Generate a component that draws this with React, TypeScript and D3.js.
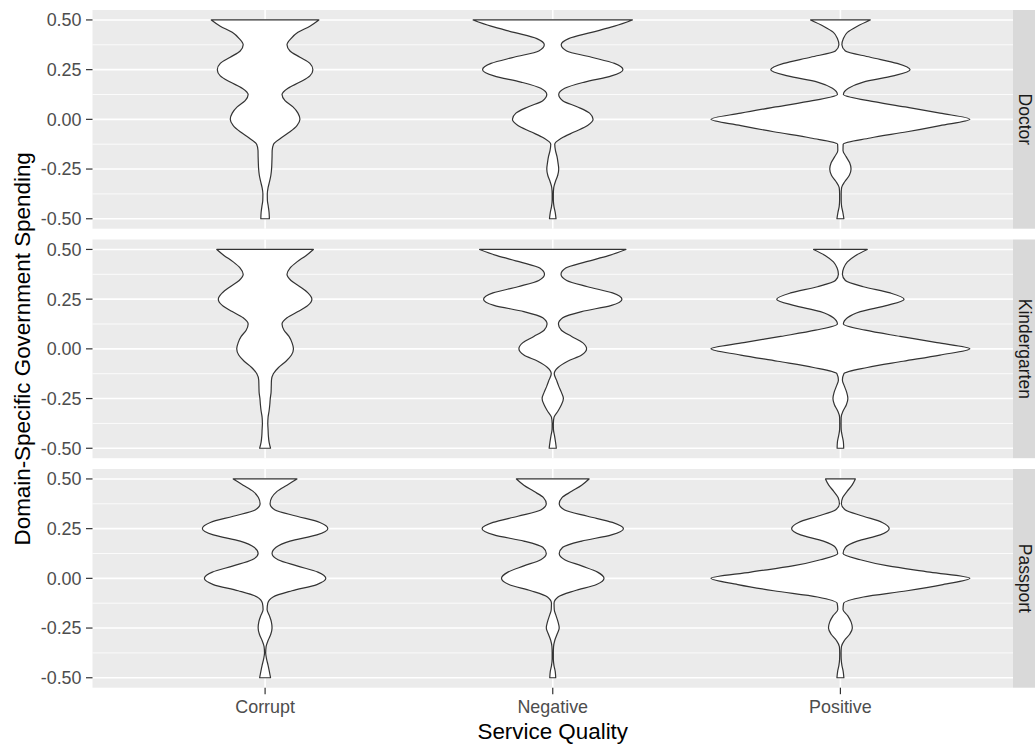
import React from "react";
import * as d3 from "d3";

const domains = ["Doctor", "Kindergarten", "Passport"];
const quality = ["Corrupt", "Negative", "Positive"];
const yTicks = [-0.5, -0.25, 0, 0.25, 0.5];
const yTickLabels = ["-0.50", "-0.25", "0.00", "0.25", "0.50"];
const yMinor = [-0.375, -0.125, 0.125, 0.375];

// spending levels where the violin widths were read, bottom to top
const spending = [
  -0.5, -0.46875, -0.4375, -0.40625, -0.375, -0.34375, -0.3125, -0.28125,
  -0.25, -0.21875, -0.1875, -0.15625, -0.125, -0.09375, -0.0625, -0.03125,
  0, 0.03125, 0.0625, 0.09375, 0.125, 0.15625, 0.1875, 0.21875,
  0.25, 0.28125, 0.3125, 0.34375, 0.375, 0.40625, 0.4375, 0.46875, 0.5,
];

// relative density (violin half width) at each spending level
const doctorCorrupt = [
  4.3, 4, 3.2, 2.3, 2.2, 3, 4.5, 5.8, 6.5, 6.8, 7, 7.1, 8.5, 16, 25, 32,
  35, 33, 28, 20, 17, 23, 35, 45, 48, 45, 35, 25, 22, 26, 33, 45, 54,
];
const doctorNegative = [
  3.3, 2.5, 1.2, 0.6, 0.6, 1, 2.7, 5, 6, 5.3, 4.3, 2.7, 2, 9, 22, 35,
  40.5, 37, 25, 10, 6, 12, 32, 59, 70.5, 62, 39, 14, 8.5, 16, 39, 62, 80,
];
const doctorPositive = [
  3.5, 2.5, 1.2, 0.8, 0.8, 1.2, 4.5, 9, 10.7, 9.3, 5.7, 2.6, 2.8, 30, 67, 100,
  130, 100, 65, 28, 3, 8, 23, 53, 70, 57, 30, 5, 1.5, 3, 7, 17, 30,
];
const kinderCorrupt = [
  5.5, 4, 3.3, 3, 2.7, 3, 4, 4.7, 5.2, 6, 6.2, 6.4, 8.3, 13.5, 21, 26.5,
  28.5, 27, 24, 19, 17, 22, 33, 43, 47, 43, 35, 26, 22, 25, 32, 41, 48.5,
];
const kinderNegative = [
  3.6, 2.8, 1.8, 0.7, 0.6, 1.3, 5.3, 8.7, 10.7, 8.7, 6, 3.7, 1.5, 5.3, 15, 29,
  34, 30, 19, 8.7, 5.7, 10, 29, 59, 69.5, 60, 35, 14, 8.3, 13, 33, 56, 73.5,
];
const kinderPositive = [
  3.3, 3, 1.8, 0.8, 0.7, 0.8, 2.7, 6, 7.5, 6.3, 4, 2, 3.5, 27, 63, 100,
  130, 97, 60, 25, 3, 7, 20, 47, 64, 50, 23, 5, 2, 3.3, 7, 15, 27,
];
const passportCorrupt = [
  5.5, 4.3, 3, 1.5, 0.6, 1, 3, 5.7, 7, 6.3, 4.3, 2, 2.7, 8, 27, 52,
  61, 53, 32, 13, 7, 11, 25, 52, 63, 55, 32, 10, 5, 6.7, 12, 22, 32,
];
const passportNegative = [
  3, 2.5, 1.2, 0.6, 0.6, 0.8, 2, 4.3, 6.5, 5.3, 3.3, 1.5, 1.3, 5.3, 22, 44,
  51.5, 45, 29, 12, 6.5, 10, 29, 59, 71, 60, 35, 12, 6.5, 9.3, 19, 29, 36.5,
];
const passportPositive = [
  3.5, 2.8, 1.5, 0.8, 0.7, 1, 4, 9.3, 12, 10.7, 7.3, 2.6, 3.3, 23, 67, 103,
  130, 90, 48, 20, 2.7, 5, 17, 40, 49, 42, 23, 5, 1, 2.3, 6.7, 11.7, 15,
];

const violins: Record<string, number[][]> = {
  Doctor: [doctorCorrupt, doctorNegative, doctorPositive],
  Kindergarten: [kinderCorrupt, kinderNegative, kinderPositive],
  Passport: [passportCorrupt, passportNegative, passportPositive],
};

const font = "'Liberation Sans', Arial, Helvetica, sans-serif";

export default function App() {
  const width = 1035;
  const height = 747;
  const left = 92.5;
  const right = 1013;
  const top = 10;
  const panelH = 218.7;
  const gap = 10.8;
  const bottom = top + 3 * panelH + 2 * gap;

  const x = d3.scalePoint<string>().domain(quality).range([left, right]).padding(0.6);
  const maxW = d3.max(Object.values(violins).flat(2)) as number;
  const half = d3.scaleLinear().domain([0, maxW]).range([0, 0.45 * x.step()]);

  return (
    <svg
      width={width}
      height={height}
      style={{ position: "absolute", left: 0, top: 0, background: "#fff" }}
      fontFamily={font}
    >
      {domains.map((dom, r) => {
        const py = top + r * (panelH + gap);
        const y = d3.scaleLinear().domain([-0.55, 0.55]).range([py + panelH, py]);
        return (
          <g key={dom}>
            <rect x={left} y={py} width={right - left} height={panelH} fill="#EBEBEB" />
            {yMinor.map((v) => (
              <line key={"mn" + v} x1={left} x2={right} y1={y(v)} y2={y(v)} stroke="#fff" strokeWidth={0.8} />
            ))}
            {yTicks.map((v) => (
              <line key={"mj" + v} x1={left} x2={right} y1={y(v)} y2={y(v)} stroke="#fff" strokeWidth={1.6} />
            ))}
            {quality.map((q) => (
              <line key={"vx" + q} x1={x(q)} x2={x(q)} y1={py} y2={py + panelH} stroke="#fff" strokeWidth={1.6} />
            ))}
            {quality.map((q, ci) => {
              const cx = x(q) as number;
              const pts = spending.map((s, i) => ({ s, w: violins[dom][ci][i] })).reverse();
              const area = d3
                .area<{ s: number; w: number }>()
                .y((d) => y(d.s))
                .x0((d) => cx - half(d.w))
                .x1((d) => cx + half(d.w))
                .curve(d3.curveMonotoneY);
              return (
                <path
                  key={"v" + q}
                  d={area(pts) as string}
                  fill="#fff"
                  stroke="#333333"
                  strokeWidth={1.2}
                  strokeLinejoin="round"
                />
              );
            })}
            {yTicks.map((v, i) => (
              <g key={"yt" + v}>
                <line x1={left - 6.5} x2={left} y1={y(v)} y2={y(v)} stroke="#333333" strokeWidth={1.2} />
                <text
                  x={left - 11}
                  y={y(v)}
                  dy="0.36em"
                  textAnchor="end"
                  fontSize={17.9}
                  fill="#4D4D4D"
                >
                  {yTickLabels[i]}
                </text>
              </g>
            ))}
            <rect x={right} y={py} width={40} height={panelH} fill="#D9D9D9" />
            <text
              transform={`translate(${right + 5.5},${py + panelH / 2}) rotate(90)`}
              textAnchor="middle"
              fontSize={17.5}
              fill="#1A1A1A"
            >
              {dom}
            </text>
          </g>
        );
      })}
      {quality.map((q) => (
        <g key={"xt" + q}>
          <line x1={x(q)} x2={x(q)} y1={bottom} y2={bottom + 6.5} stroke="#333333" strokeWidth={1.2} />
          <text x={x(q)} y={713} textAnchor="middle" fontSize={17.9} fill="#4D4D4D">
            {q}
          </text>
        </g>
      ))}
      <text x={(left + right) / 2} y={739} textAnchor="middle" fontSize={22.4} fill="#000">
        Service Quality
      </text>
      <text
        transform={`translate(30,${(top + bottom) / 2}) rotate(-90)`}
        textAnchor="middle"
        fontSize={22.4}
        fill="#000"
      >
        Domain-Specific Government Spending
      </text>
    </svg>
  );
}
